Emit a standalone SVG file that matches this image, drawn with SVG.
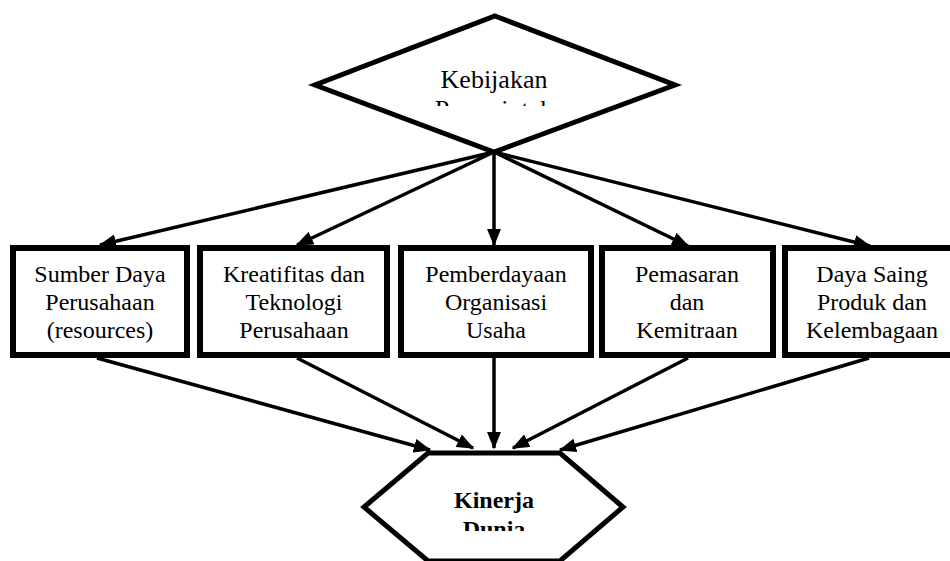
<svg xmlns="http://www.w3.org/2000/svg" width="950" height="561" viewBox="0 0 950 561">
<style>
.shape{fill:#fff;stroke:#000;stroke-width:5;stroke-linejoin:miter}
.box{fill:#fff;stroke:#000;stroke-width:6}
.t{font-family:"Liberation Serif","Times New Roman",Times,serif;font-size:24px;text-anchor:middle;fill:#000}
.big{font-size:26px}
.b{font-weight:bold}
.c{stroke:#000;stroke-width:3.5;fill:none}
</style>
<defs>
<marker id="ah" markerWidth="5" markerHeight="4" refX="4.6" refY="2" orient="auto" markerUnits="strokeWidth">
<path d="M0,0 L5,2 L0,4 Z" fill="#000"/>
</marker>
<clipPath id="clipD"><rect x="300" y="0" width="400" height="106"/></clipPath>
<clipPath id="clipH"><rect x="340" y="440" width="300" height="91"/></clipPath>
</defs>
<g id="kebijakan">
<polygon class="shape" points="495,16 675,85 494,152 315,85"/>
<g clip-path="url(#clipD)">
<text class="t big" x="494" y="88">Kebijakan</text>
<text class="t big" x="494" y="118">Pemerintah</text>
</g>
</g>
<g id="box1">
<rect class="box" x="13" y="248" width="174" height="107"/>
<text class="t" x="100" y="282">Sumber Daya</text>
<text class="t" x="100" y="310">Perusahaan</text>
<text class="t" x="100" y="338">(resources)</text>
</g>
<g id="box2">
<rect class="box" x="200" y="248" width="187" height="107"/>
<text class="t" x="294" y="282">Kreatifitas dan</text>
<text class="t" x="294" y="310">Teknologi</text>
<text class="t" x="294" y="338">Perusahaan</text>
</g>
<g id="box3">
<rect class="box" x="401" y="248" width="190" height="107"/>
<text class="t" x="496" y="282">Pemberdayaan</text>
<text class="t" x="496" y="310">Organisasi</text>
<text class="t" x="496" y="338">Usaha</text>
</g>
<g id="box4">
<rect class="box" x="602" y="248" width="171" height="107"/>
<text class="t" x="687" y="282">Pemasaran</text>
<text class="t" x="687" y="310">dan</text>
<text class="t" x="687" y="338">Kemitraan</text>
</g>
<g id="box5">
<rect class="box" x="785" y="248" width="172" height="107"/>
<text class="t" x="872" y="282">Daya Saing</text>
<text class="t" x="872" y="310">Produk dan</text>
<text class="t" x="872" y="338">Kelembagaan</text>
</g>
<g id="kinerja">
<polygon class="shape" points="428,453 560,453 623,507 560,561 428,561 364,507"/>
<g clip-path="url(#clipH)">
<text class="t b" x="494" y="508">Kinerja</text>
<text class="t b" x="494" y="537">Dunia</text>
</g>
</g>
<g id="connectors">
<line class="c" x1="494" y1="152" x2="100" y2="245" marker-end="url(#ah)"/>
<line class="c" x1="494" y1="152" x2="297" y2="245" marker-end="url(#ah)"/>
<line class="c" x1="494" y1="152" x2="494" y2="245" marker-end="url(#ah)"/>
<line class="c" x1="494" y1="152" x2="688" y2="246" marker-end="url(#ah)"/>
<line class="c" x1="494" y1="152" x2="870" y2="246" marker-end="url(#ah)"/>
<line class="c" x1="97" y1="358" x2="430" y2="450" marker-end="url(#ah)"/>
<line class="c" x1="297" y1="358" x2="473" y2="448" marker-end="url(#ah)"/>
<line class="c" x1="494" y1="358" x2="494" y2="448" marker-end="url(#ah)"/>
<line class="c" x1="688" y1="358" x2="513" y2="448" marker-end="url(#ah)"/>
<line class="c" x1="869" y1="358" x2="560" y2="450" marker-end="url(#ah)"/>
</g>
</svg>
